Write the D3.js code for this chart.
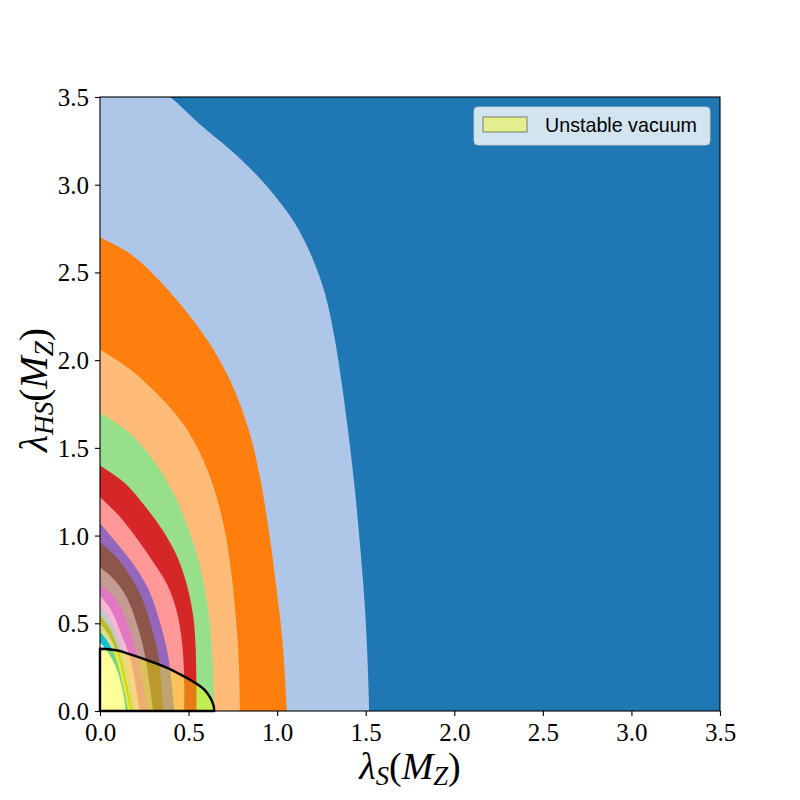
<!DOCTYPE html>
<html><head><meta charset="utf-8">
<script src="https://cdn.jsdelivr.net/npm/d3@7"></script>
<style>body{margin:0;background:#fff}svg{display:block}</style>
</head><body>
<svg id="c" width="800" height="800"></svg>
<script>
// ---- data (λS, λHS) boundary points of each band, from y-axis to x-axis ----
const tickValues = [0, 0.5, 1.0, 1.5, 2.0, 2.5, 3.0, 3.5];
const backgroundColor = "#1f77b4";
const bandColors = ["#aec7e8","#ff7f0e","#ffbb78","#98df8a","#d62728","#ff9896","#9467bd","#8c564b","#c49c94","#e377c2","#f7b6d2","#c7c7c7","#bcbd22","#dbdb8d","#17becf","#ffffff"];
const edgeLightBlue = [[0.30,3.56],[0.395,3.5],[0.58,3.33],[0.78,3.16],[0.96,2.97],[1.10,2.78],[1.20,2.58],[1.27,2.38],[1.32,2.15],[1.36,1.90],[1.40,1.60],[1.44,1.25],[1.47,0.92],[1.495,0.60],[1.51,0.30],[1.52,0]];
const edgeOrange = [[0,2.70],[0.18,2.60],[0.34,2.45],[0.50,2.26],[0.64,2.06],[0.75,1.85],[0.84,1.60],[0.90,1.35],[0.95,1.05],[0.99,0.75],[1.03,0.40],[1.055,0]];
const edgePeach = [[0,2.06],[0.18,1.94],[0.33,1.80],[0.46,1.65],[0.56,1.48],[0.64,1.28],[0.70,1.05],[0.74,0.80],[0.77,0.50],[0.785,0.25],[0.79,0]];
const edgeGreen = [[0,1.70],[0.16,1.59],[0.30,1.43],[0.41,1.25],[0.49,1.06],[0.55,0.88],[0.59,0.70],[0.62,0.50],[0.635,0.30],[0.645,0]];
const edgeRed = [[0,1.40],[0.14,1.30],[0.26,1.16],[0.36,1.02],[0.44,0.87],[0.49,0.72],[0.525,0.55],[0.54,0.36],[0.545,0]];
const edgePink = [[0,1.22],[0.11,1.11],[0.21,0.98],[0.30,0.85],[0.38,0.72],[0.43,0.58],[0.46,0.42],[0.475,0.2],[0.475,0]];
const edgePurple = [[0,1.07],[0.10,0.95],[0.20,0.82],[0.28,0.68],[0.34,0.50],[0.385,0.31],[0.42,0]];
const edgeBrown = [[0,0.96],[0.08,0.89],[0.15,0.80],[0.23,0.66],[0.29,0.48],[0.33,0.31],[0.355,0]];
const edgeTan = [[0,0.82],[0.08,0.75],[0.15,0.65],[0.21,0.49],[0.255,0.31],[0.30,0]];
const edgeMagenta = [[0,0.72],[0.07,0.66],[0.12,0.58],[0.175,0.44],[0.22,0.28],[0.27,0]];
const edgeLightPink = [[0,0.66],[0.06,0.58],[0.12,0.44],[0.17,0.30],[0.225,0]];
const edgeGrey = [[0,0.60],[0.045,0.54],[0.085,0.46],[0.13,0.33],[0.20,0]];
const edgeOlive = [[0,0.55],[0.06,0.46],[0.11,0.33],[0.185,0]];
const edgeLightOlive = [[0,0.50],[0.05,0.43],[0.10,0.32],[0.17,0]];
const edgeCyan = [[0,0.45],[0.04,0.40],[0.09,0.30],[0.16,0]];
const edgeEmpty = [[0,0.39],[0.04,0.34],[0.09,0.25],[0.125,0.13],[0.147,0]];
const vacuumEdge = [[0,0.355],[0.10,0.345],[0.18,0.32],[0.28,0.285],[0.37,0.25],[0.45,0.21],[0.51,0.177],[0.56,0.145],[0.59,0.12],[0.62,0.08],[0.64,0.035],[0.645,0]];
const legendLabel = "Unstable vacuum";

const bandEdges = [edgeLightBlue, edgeOrange, edgePeach, edgeGreen, edgeRed, edgePink, edgePurple, edgeBrown, edgeTan, edgeMagenta, edgeLightPink, edgeGrey, edgeOlive, edgeLightOlive, edgeCyan, edgeEmpty];

// ---- layout ----
const L = 100, R = 720, T = 97, B = 711;
const svg = d3.select("#c");
const x = d3.scaleLinear().domain([0, 3.5]).range([L, R]);
const y = d3.scaleLinear().domain([0, 3.5]).range([B, T]);

svg.append("defs").append("clipPath").attr("id","clip")
  .append("rect").attr("x",L).attr("y",T).attr("width",R-L).attr("height",B-T);

const g = svg.append("g").attr("clip-path","url(#clip)");
g.append("rect").attr("x",L).attr("y",T).attr("width",R-L).attr("height",B-T).attr("fill",backgroundColor);

const line = d3.line().x(d => x(d[0])).y(d => y(d[1])).curve(d3.curveCatmullRom.alpha(0.5));
function regionPath(pts) {
  return `M${x(0)},${y(0)}L${x(0)},${y(pts[0][1])}` + line(pts).replace(/^M/, "L") + "Z";
}
bandEdges.forEach((pts, i) => {
  g.append("path").attr("d", regionPath(pts)).attr("fill", bandColors[i]);
});

// unstable vacuum region
svg.append("path").attr("d", regionPath(vacuumEdge))
  .attr("fill", "#ffff00").attr("fill-opacity", 0.4)
  .attr("stroke", "#000").attr("stroke-width", 2.4).attr("stroke-linejoin","round");

// spines
svg.append("rect").attr("x",L).attr("y",T).attr("width",R-L).attr("height",B-T)
  .attr("fill","none").attr("stroke","#000").attr("stroke-width",1.1);

// axes
const fmt = d3.format(".1f");
const xAxis = svg.append("g").attr("transform",`translate(0,${B})`)
  .call(d3.axisBottom(x).tickValues(tickValues).tickFormat(fmt).tickSize(5).tickPadding(7));
const yAxis = svg.append("g").attr("transform",`translate(${L},0)`)
  .call(d3.axisLeft(y).tickValues(tickValues).tickFormat(fmt).tickSize(5).tickPadding(6));
[xAxis, yAxis].forEach(a => {
  a.select(".domain").remove();
  a.selectAll(".tick line").attr("stroke","#000").attr("stroke-width",1.1);
  a.selectAll(".tick text").attr("fill","#000")
    .style("font-family","'Liberation Serif', 'DejaVu Serif', serif").style("font-size","25px");
});
xAxis.selectAll(".tick text").attr("dy","0.71em");
yAxis.selectAll(".tick text").attr("dy","0.34em");

// axis labels
function mathLabel(sel, parts) {
  parts.forEach(p => {
    const t = sel.append("tspan").text(p.t);
    if (p.it) t.style("font-style","italic");
    if (p.sub) t.attr("font-size","0.7em").attr("baseline-shift","-22%");
  });
}
const xl = svg.append("text").attr("x", 410).attr("y", 779).attr("text-anchor","middle")
  .style("font-family","'Liberation Serif', serif").style("font-size","38px");
mathLabel(xl, [{t:"λ",it:true},{t:"S",it:true,sub:true},{t:"("},{t:"M",it:true},{t:"Z",it:true,sub:true},{t:")"}]);
const yl = svg.append("text").attr("transform","translate(47,390) rotate(-90)").attr("text-anchor","middle")
  .style("font-family","'Liberation Serif', serif").style("font-size","39px");
mathLabel(yl, [{t:"λ",it:true},{t:"HS",it:true,sub:true},{t:"("},{t:"M",it:true},{t:"Z",it:true,sub:true},{t:")"}]);

// legend
const lg = svg.append("g");
lg.append("rect").attr("x",474).attr("y",107).attr("width",236).attr("height",38).attr("rx",4)
  .attr("fill","#fff").attr("fill-opacity",0.8).attr("stroke","#ccc").attr("stroke-opacity",0.8);
lg.append("rect").attr("x",483).attr("y",117).attr("width",44).attr("height",15)
  .attr("fill","#ffff00").attr("fill-opacity",0.4).attr("stroke","#000").attr("stroke-opacity",0.45).attr("stroke-width",1);
lg.append("text").attr("x",545).attr("y",132).text(legendLabel)
  .style("font-family","'Liberation Sans', 'DejaVu Sans', sans-serif").style("font-size","21px")
  .attr("textLength",152).attr("lengthAdjust","spacingAndGlyphs");
</script>
</body></html>
